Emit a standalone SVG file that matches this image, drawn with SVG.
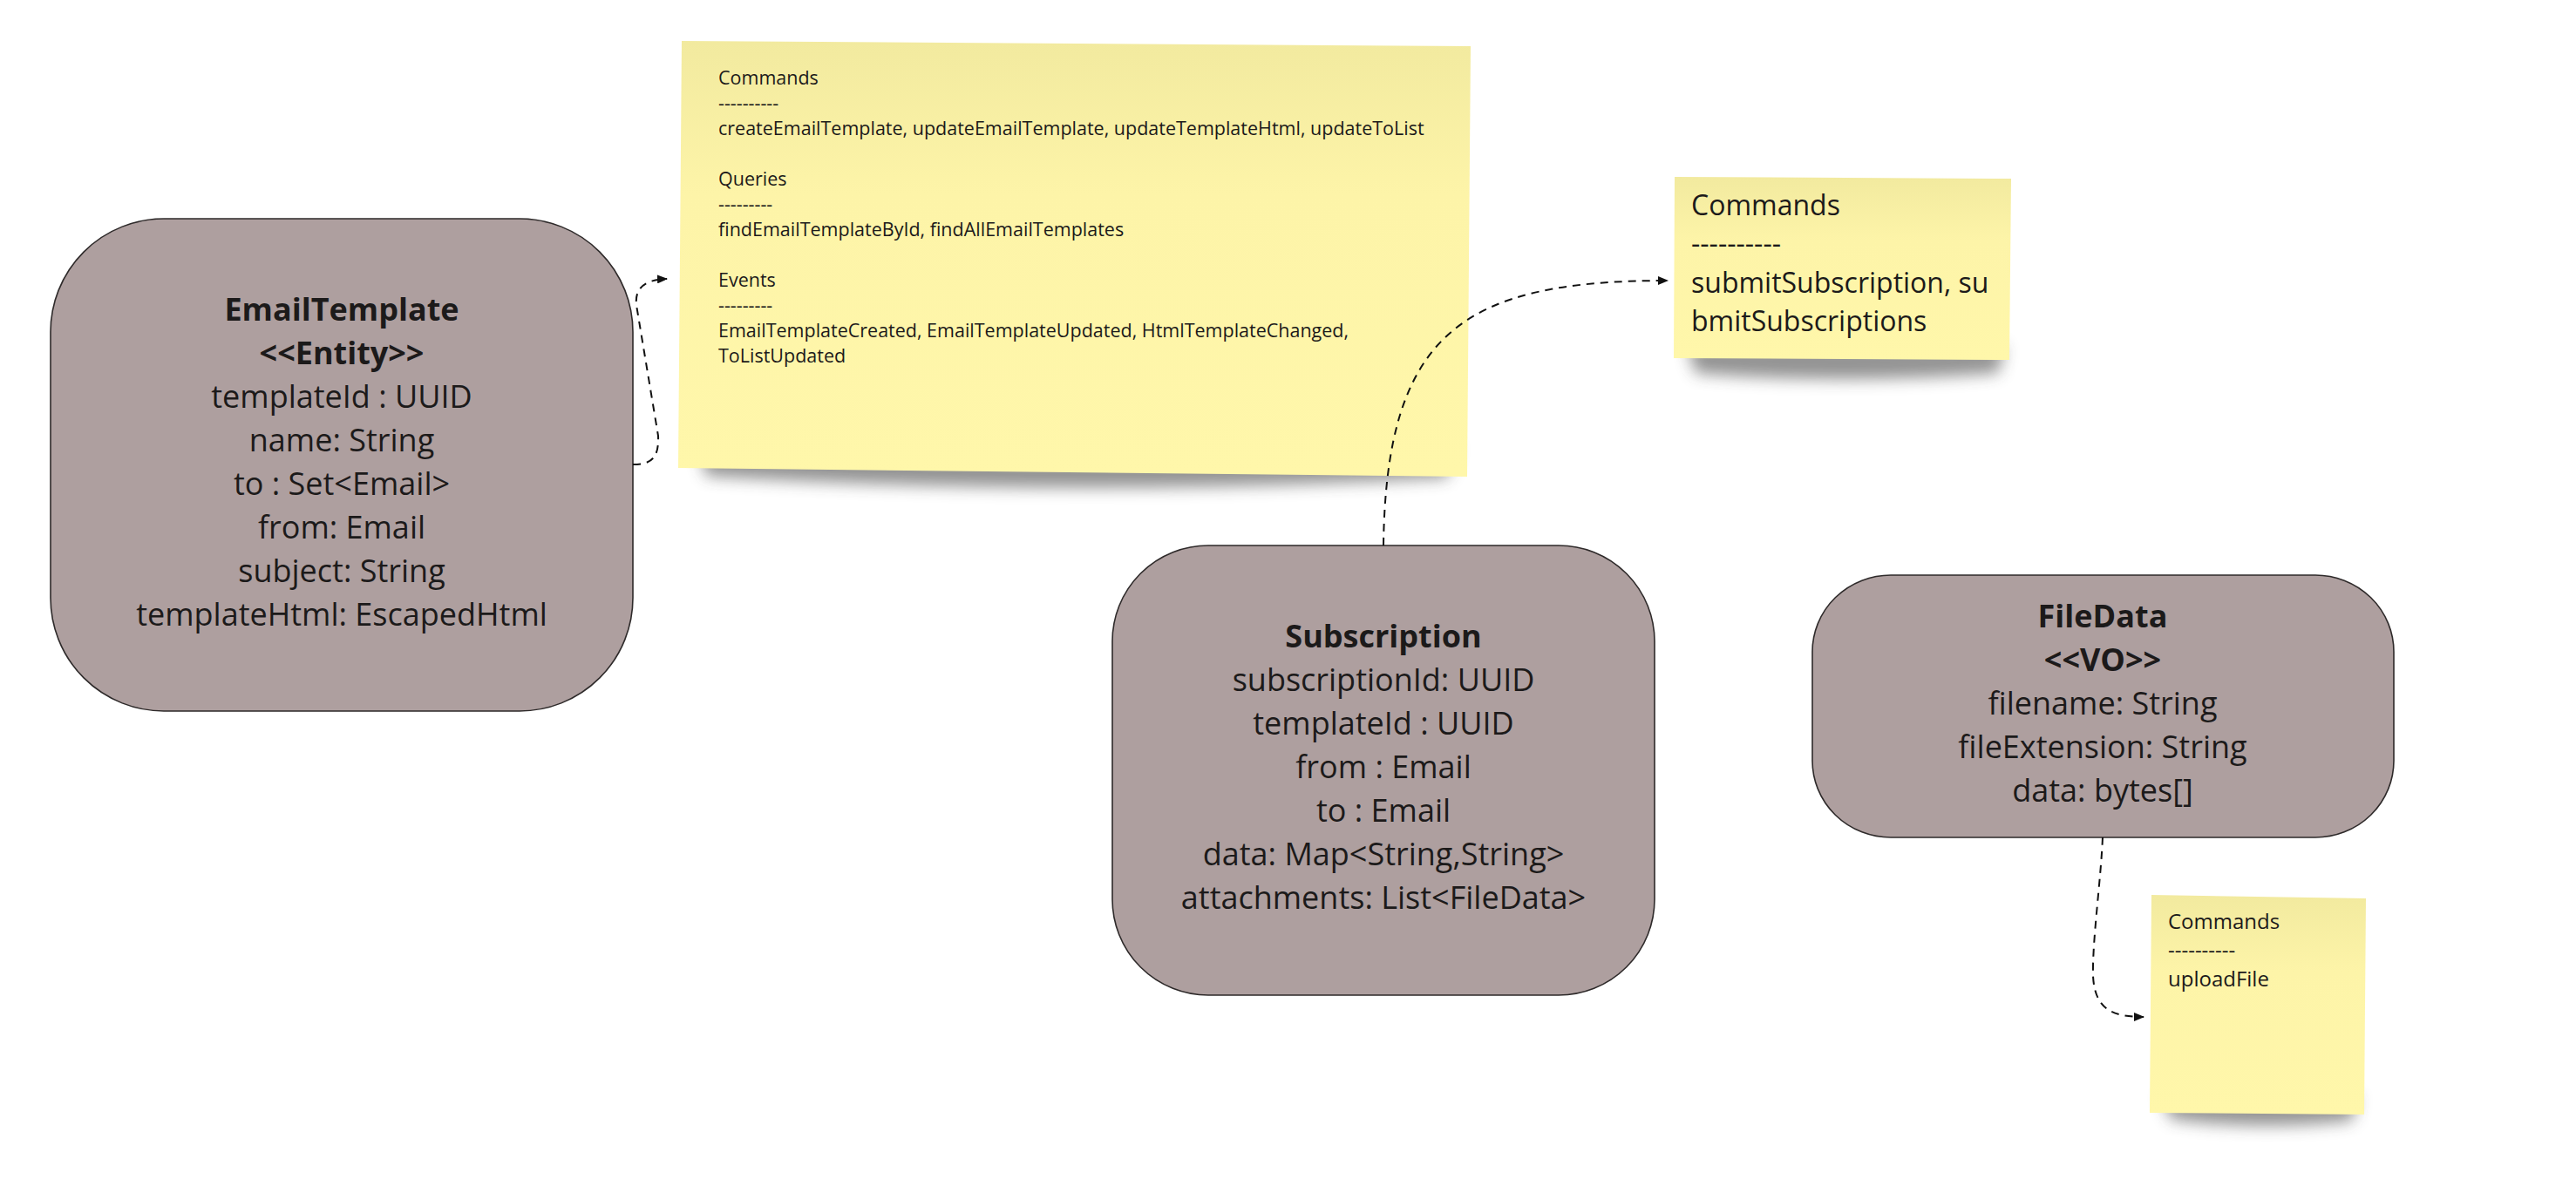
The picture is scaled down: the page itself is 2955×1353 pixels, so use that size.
<svg xmlns="http://www.w3.org/2000/svg" width="2955" height="1353" viewBox="0 0 2955 1353">
<defs>
<style>
.box{fill:#ae9f9f;stroke:#2e2a2a;stroke-width:1.6}
.t{font-family:"Open Sans","Liberation Sans",sans-serif;fill:#1c1a1a;text-anchor:middle;font-size:36px}
.b{font-weight:bold}
.st{font-family:"Open Sans","Liberation Sans",sans-serif;fill:#1c1a1a}
.conn{fill:none;stroke:#111;stroke-width:2;stroke-dasharray:9 7}
.shadow{fill:#3a3a3a;opacity:0.55;filter:url(#blur)}
</style>
<filter id="blur" x="-20%" y="-100%" width="140%" height="300%"><feGaussianBlur stdDeviation="9"/></filter>
<linearGradient id="sg" x1="0" y1="0" x2="0" y2="1">
<stop offset="0" stop-color="#f2ea9f"/><stop offset="0.35" stop-color="#fdf4a8"/><stop offset="1" stop-color="#fff7aa"/>
</linearGradient>
<marker id="arr" viewBox="0 0 12 10" refX="11" refY="5" markerWidth="12" markerHeight="10" markerUnits="userSpaceOnUse" orient="auto">
<path d="M0,0 L12,5 L0,10 Z" fill="#111"/>
</marker>
</defs>
<rect width="2955" height="1353" fill="#ffffff"/>

<g id="sticky-emailtemplate">
<path class="shadow" d="M800,505 L1670,512 L1660,548 Q1230,572 810,546 Z"/>
<polygon points="782,47 1687,53 1683,547 778,537" fill="url(#sg)"/>
<text class="st" font-size="21.5" x="824" y="97">Commands</text>
<text class="st" font-size="21.5" x="824" y="126">----------</text>
<text class="st" font-size="21.5" x="824" y="155">createEmailTemplate, updateEmailTemplate, updateTemplateHtml, updateToList</text>
<text class="st" font-size="21.5" x="824" y="213">Queries</text>
<text class="st" font-size="21.5" x="824" y="242">---------</text>
<text class="st" font-size="21.5" x="824" y="271">findEmailTemplateById, findAllEmailTemplates</text>
<text class="st" font-size="21.5" x="824" y="329">Events</text>
<text class="st" font-size="21.5" x="824" y="358">---------</text>
<text class="st" font-size="21.5" x="824" y="387">EmailTemplateCreated, EmailTemplateUpdated, HtmlTemplateChanged,</text>
<text class="st" font-size="21.5" x="824" y="416">ToListUpdated</text>
</g>

<g id="sticky-subscription">
<path class="shadow" d="M1935,395 L2300,398 L2292,428 Q2110,442 1945,428 Z"/>
<polygon points="1921,203 2307,205 2305,413 1920,411" fill="url(#sg)"/>
<text class="st" font-size="32" x="1940" y="247">Commands</text>
<text class="st" font-size="32" x="1940" y="291">----------</text>
<text class="st" font-size="32" x="1940" y="336">submitSubscription, su</text>
<text class="st" font-size="32" x="1940" y="380">bmitSubscriptions</text>
</g>

<g id="sticky-filedata">
<path class="shadow" d="M2480,1255 L2705,1258 L2698,1286 Q2590,1298 2490,1284 Z"/>
<polygon points="2468,1027 2714,1031 2712,1279 2466,1277" fill="url(#sg)"/>
<text class="st" font-size="24" x="2487" y="1066">Commands</text>
<text class="st" font-size="24" x="2487" y="1099">----------</text>
<text class="st" font-size="24" x="2487" y="1132">uploadFile</text>
</g>

<g id="node-emailtemplate">
<rect class="box" x="58" y="251" width="668" height="565" rx="130" ry="130"/>
<text class="t b" x="392" y="368">EmailTemplate</text>
<text class="t b" x="392" y="418">&lt;&lt;Entity&gt;&gt;</text>
<text class="t" x="392" y="468">templateId : UUID</text>
<text class="t" x="392" y="518">name: String</text>
<text class="t" x="392" y="568">to : Set&lt;Email&gt;</text>
<text class="t" x="392" y="618">from: Email</text>
<text class="t" x="392" y="668">subject: String</text>
<text class="t" x="392" y="718">templateHtml: EscapedHtml</text>
</g>

<g id="node-subscription">
<rect class="box" x="1276" y="626" width="622" height="516" rx="110" ry="110"/>
<text class="t b" x="1587" y="743">Subscription</text>
<text class="t" x="1587" y="793">subscriptionId: UUID</text>
<text class="t" x="1587" y="843">templateId : UUID</text>
<text class="t" x="1587" y="893">from : Email</text>
<text class="t" x="1587" y="943">to : Email</text>
<text class="t" x="1587" y="993">data: Map&lt;String,String&gt;</text>
<text class="t" x="1587" y="1043">attachments: List&lt;FileData&gt;</text>
</g>

<g id="node-filedata">
<rect class="box" x="2079" y="660" width="667" height="301" rx="90" ry="88"/>
<text class="t b" x="2412" y="720">FileData</text>
<text class="t b" x="2412" y="770">&lt;&lt;VO&gt;&gt;</text>
<text class="t" x="2412" y="820">filename: String</text>
<text class="t" x="2412" y="870">fileExtension: String</text>
<text class="t" x="2412" y="920">data: bytes[]</text>
</g>

<g id="connectors">
<path class="conn" marker-end="url(#arr)" d="M726,533 C748,533 756,525 755,500 L730,350 C728,330 740,321 765,320"/>
<path class="conn" marker-end="url(#arr)" d="M1587,626 C1590,380 1680,322 1913,322"/>
<path class="conn" marker-end="url(#arr)" d="M2412,961 C2410,1010 2400,1080 2401,1120 C2403,1160 2425,1167 2459,1167"/>
</g>
</svg>
